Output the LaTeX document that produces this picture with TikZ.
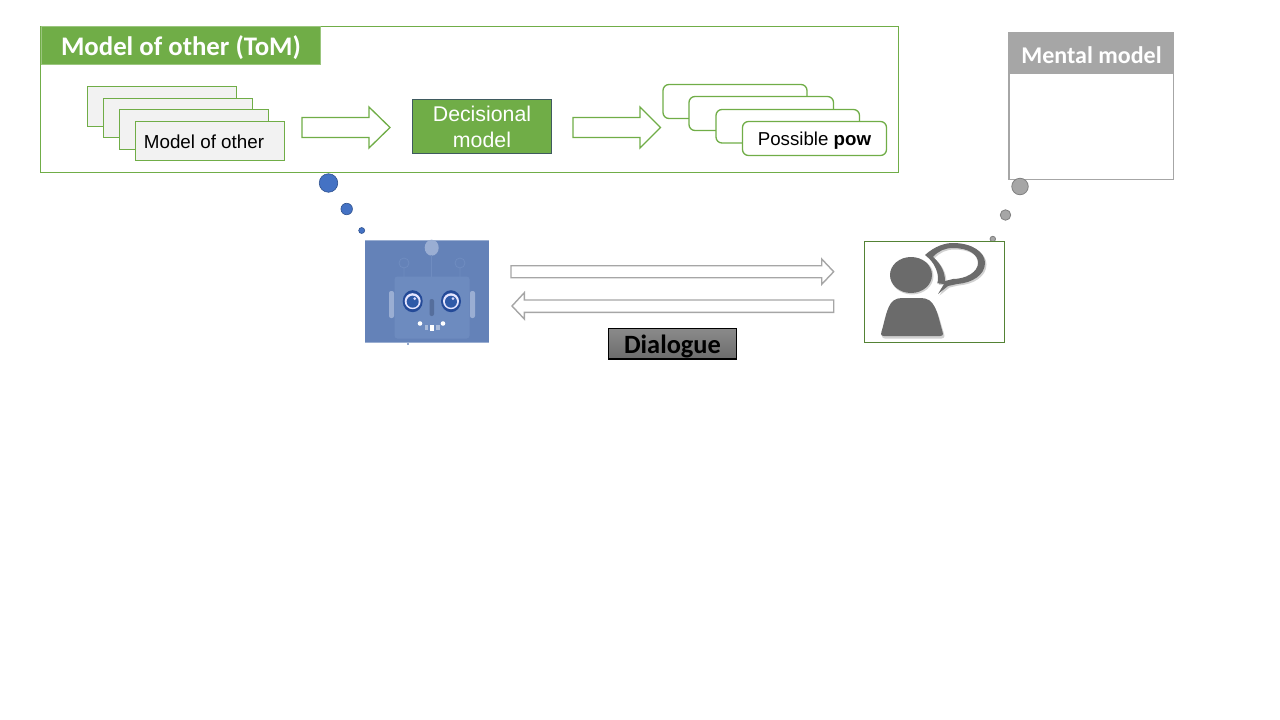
\documentclass[tikz,border=0pt]{standalone}
\usepackage{fontspec}
\setmainfont{Liberation Sans}
\newfontfamily\carl{Carlito}
\usetikzlibrary{shadings}
\definecolor{grn}{HTML}{70AD47}
\definecolor{dgrn}{HTML}{548235}
\definecolor{lgray}{HTML}{F2F2F2}
\definecolor{mgray}{HTML}{A6A6A6}
\definecolor{robot}{HTML}{6482B8}
\definecolor{face}{HTML}{6F8CC0}
\definecolor{pers}{HTML}{6B6B6B}
\definecolor{dotblue}{HTML}{4472C4}
\definecolor{dotedge}{HTML}{2F528F}
\definecolor{eyedark}{HTML}{244A98}
\definecolor{eyein}{HTML}{2F5AA8}
\definecolor{decedge}{HTML}{3F5A5F}
\definecolor{dlgtop}{HTML}{8A8A8A}
\definecolor{dlgbot}{HTML}{6C6C6C}
\tikzset{
 x=1pt,y=-1pt,
 every node/.style={inner sep=0pt,outer sep=0pt,anchor=center,align=center},
 sheet/.style={draw=grn,fill=lgray,line width=1.2pt},
 round sheet/.style={draw=grn,fill=white,line width=1.3pt,rounded corners=6pt},
 block/.style={draw=grn,fill=white,line width=1.3pt,line join=miter},
 gblock/.style={draw=mgray,fill=white,line width=1.4pt,line join=miter},
 bdot/.style={circle,draw=dotedge,fill=dotblue,line width=.6pt},
 gdot/.style={circle,draw=gray,fill=mgray,line width=.8pt},
}
\newcommand{\abox}[6][]{\node[#1,minimum width=#4-#2,minimum height=#5-#3] (#6) at ({(#2+#4)/2},{(#3+#5)/2}) {};}
\begin{document}
\begin{tikzpicture}
\useasboundingbox (0,0) rectangle (1280,720);
% outer frame
\abox[draw=grn,line width=1.3pt]{40.5}{26.5}{898.5}{172.5}{frame}
\node[fill=grn,draw=grn!70,line width=.5pt,minimum width=279pt,minimum height=38pt] (title) at (180.5,45.5) {};
\node[text=white,font=\carl\bfseries\fontsize{26.8}{30}\selectfont] (titletext) at (181,48) {Model of other (ToM)};
% model stack
\abox[sheet]{87.5}{86.5}{236.5}{126.5}{m1}
\abox[sheet]{103.5}{98.5}{252.5}{137.5}{m2}
\abox[sheet]{119.5}{109.5}{268.5}{149.5}{m3}
\abox[sheet]{135.5}{121.5}{284.5}{160.5}{m4}
\node[font=\fontsize{18.8}{21}\selectfont,text=black] (mtext) at (204,142) {Model of other};
% arrow 1
\draw[block] (302,117.5) -- (369,117.5) -- (369,107) -- (390,127.5) -- (369,148) -- (369,137.5) -- (302,137.5) -- cycle;
% decisional
\node[fill=grn,draw=decedge,line width=1pt,minimum width=139pt,minimum height=54pt] (dec) at (482,126.5) {};
\node[text=white,font=\fontsize{21.3}{26}\selectfont] (dectext) at (482,127) {Decisional\\model};
% arrow 2
\draw[block] (573,117.5) -- (640,117.5) -- (640,107) -- (660.5,127.5) -- (640,148) -- (640,137.5) -- (573,137.5) -- cycle;
% pow stack
\abox[round sheet]{663}{84.5}{807}{118.5}{p1}
\abox[round sheet]{689}{96.5}{833.5}{130.5}{p2}
\abox[round sheet]{716}{109.5}{859.5}{143}{p3}
\abox[round sheet]{742.5}{121.5}{886.5}{155.5}{p4}
\node[font=\fontsize{18.7}{21}\selectfont,text=black] (ptext) at (814.5,140.5) {Possible \textbf{pow}};
% mental model
\abox[draw=mgray,fill=white,line width=1.3pt]{1009}{33}{1173.5}{179.5}{mm}
\node[fill=mgray,minimum width=164.5pt,minimum height=40pt] (mmh) at (1091.2,53.5) {};
\node[text=white,font=\carl\bfseries\fontsize{24}{27}\selectfont] (mmtext) at (1091.5,55) {Mental model};
% thought dots
\node[bdot,minimum size=18.5pt] (b1) at (328.5,183) {};
\node[bdot,minimum size=11.5pt] (b2) at (346.7,209) {};
\node[bdot,minimum size=6pt] (b3) at (361.7,230.5) {};
\node[gdot,minimum size=16.5pt] (g1) at (1020,186.5) {};
\node[gdot,minimum size=10.5pt] (g2) at (1005.5,215) {};
\node[gdot,minimum size=5.5pt] (g3) at (992.8,239) {};
% robot
\fill[robot] (365,240.5) rectangle (489,342.5);
\draw[robot!65!white,line width=1pt] (365,240.5) -- (489,240.5) (365,342.5) -- (489,342.5);
\fill[robot!70!white] (407,342.5) rectangle (409,344.5);
\fill[face,opacity=.9,rounded corners=3pt] (394.5,276.5) rectangle (469.5,338.5);
\fill[face!70!white,rounded corners=2pt] (389,291) rectangle (394,318);
\fill[face!70!white,rounded corners=2pt] (470,291) rectangle (475,318);
\fill[face!70!white] (431.7,247.7) ellipse [x radius=7,y radius=8];
\draw[face,line width=.8pt] (431.7,255) -- (431.7,277);
\draw[face,line width=.8pt] (404,263) circle [radius=5] (404,268) -- (404,277);
\draw[face,line width=.8pt] (460,263) circle [radius=5] (460,268) -- (460,277);
\foreach \ex in {412.7,451}{
 \fill[eyedark] (\ex,301.2) ellipse [x radius=10,y radius=11];
 \fill[white!90!blue] (\ex,301.2) circle [radius=8];
 \fill[eyein] (\ex,301.7) circle [radius=6];
 \fill[white!85!blue] (\ex+2,298.7) circle [radius=1.5];
}
\fill[robot!85!black,rounded corners=2pt] (429.5,299) rectangle (434,316);
\fill[white] (420,323.5) circle [radius=2.3];
\fill[white] (443,323.5) circle [radius=2.3];
\fill[face!60!white] (424.5,324.5) rectangle (428,329.5);
\fill[face!60!white] (436,324.5) rectangle (439.5,329.5);
\fill[white] (429.7,324.5) rectangle (433.7,331);
% arrows
\draw[gblock] (511,265.7) -- (821.7,265.7) -- (821.7,259) -- (833.7,271.7) -- (821.7,284.3) -- (821.7,277.7) -- (511,277.7) -- cycle;
\draw[gblock] (833.7,300) -- (524.3,300) -- (524.3,292.7) -- (512,306) -- (524.3,319) -- (524.3,312.3) -- (833.7,312.3) -- cycle;
% dialogue
\node[draw=black,line width=1.1pt,top color=dlgtop,bottom color=dlgbot,minimum width=128pt,minimum height=30.5pt] (dlg) at (672.5,343.7) {};
\node[font=\carl\bfseries\fontsize{26.4}{30}\selectfont,text=black] (dlgtext) at (672.5,346) {Dialogue};
% person
\abox[draw=dgrn,fill=white,line width=1.1pt]{864.5}{241.5}{1004.5}{342.5}{pbox}
\begin{scope}[even odd rule]
\fill[black!18,shift={(1.5pt,-1.5pt)}] (925,255) .. controls (935,246) and (945,243) .. (953,243) .. controls (972,243) and (985,252) .. (985,263) .. controls (985,275) and (972,283) .. (957,284) -- (948,286) -- (938,294) -- (944,284) -- (937.3,283.3) .. controls (940,275) and (935,262) .. (925,255) -- cycle
(933,257) .. controls (938,251) and (945,248) .. (953,248) .. controls (968,248) and (978,254) .. (978,263) .. controls (978,272) and (966,279) .. (953,279) -- (945,281) .. controls (945,272) and (941,264) .. (933,257) -- cycle;
\fill[pers] (925,255) .. controls (935,246) and (945,243) .. (953,243) .. controls (972,243) and (985,252) .. (985,263) .. controls (985,275) and (972,283) .. (957,284) -- (948,286) -- (938,294) -- (944,284) -- (937.3,283.3) .. controls (940,275) and (935,262) .. (925,255) -- cycle
(933,257) .. controls (938,251) and (945,248) .. (953,248) .. controls (968,248) and (978,254) .. (978,263) .. controls (978,272) and (966,279) .. (953,279) -- (945,281) .. controls (945,272) and (941,264) .. (933,257) -- cycle;
\end{scope}
\fill[black!18] (912,276) ellipse [x radius=21.5,y radius=18.5];
\fill[pers] (911,275) ellipse [x radius=21,y radius=18];
\fill[black!18] (885,338.5) .. controls (881,338.5) and (882,335) .. (883,332) .. controls (888,314) and (889,300) .. (903,300) -- (922,300) .. controls (936,300) and (938,314) .. (943.5,332) .. controls (944.5,335) and (945.5,338.5) .. (941.5,338.5) -- cycle;
\fill[pers] (884,336) .. controls (880,336) and (881,333) .. (882,330) .. controls (887,312) and (888,298) .. (902,298) -- (921,298) .. controls (935,298) and (937,312) .. (942,330) .. controls (943,333) and (944,336) .. (940,336) -- cycle;
\end{tikzpicture}
\end{document}
